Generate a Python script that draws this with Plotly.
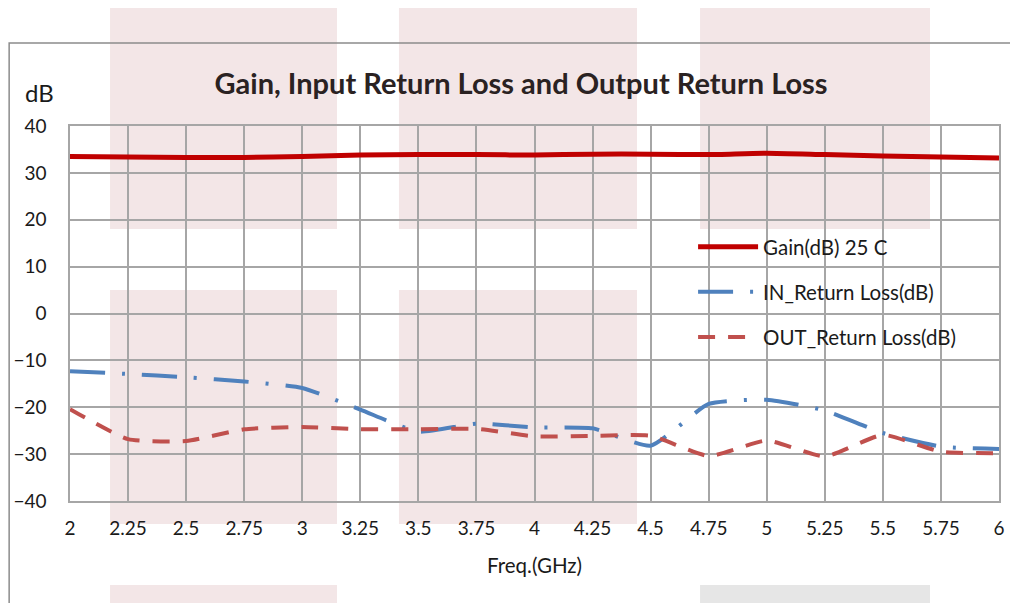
import plotly.graph_objects as go

# ---- data ----
freq_ghz = [2.0, 2.25, 2.5, 2.75, 3.0, 3.25, 3.5, 3.75, 4.0, 4.25, 4.5, 4.75, 5.0, 5.25, 5.5, 5.75, 6.0]
gain_db = [33.5, 33.4, 33.3, 33.3, 33.5, 33.8, 33.9, 33.9, 33.8, 34.0, 34.0, 33.9, 34.2, 33.9, 33.6, 33.4, 33.2]
in_return_loss = [-12.3, -12.9, -13.6, -14.5, -15.9, -20.5, -25.2, -23.5, -24.3, -24.5, -28.2, -19.3, -18.4, -20.7, -25.5, -28.4, -28.9]
out_return_loss = [-20.4, -26.8, -27.2, -24.7, -24.2, -24.7, -24.7, -24.6, -26.2, -26.1, -26.1, -30.4, -27.1, -30.5, -25.9, -29.5, -29.8]

x_tick_vals = [2, 2.25, 2.5, 2.75, 3, 3.25, 3.5, 3.75, 4, 4.25, 4.5, 4.75, 5, 5.25, 5.5, 5.75, 6]
x_tick_text = ["2", "2.25", "2.5", "2.75", "3", "3.25", "3.5", "3.75", "4", "4.25", "4.5", "4.75", "5", "5.25", "5.5", "5.75", "6"]
y_tick_vals = [40, 30, 20, 10, 0, -10, -20, -30, -40]

series_names = ["Gain(dB) 25 C", "IN_Return Loss(dB)", "OUT_Return Loss(dB)"]
title_text = "Gain, Input Return Loss and Output Return Loss"
y_unit_text = "dB"
x_title_text = "Freq.(GHz)"

FONT = "Lato"
GRID = "#A6A6A6"

fig = go.Figure()
fig.add_trace(go.Scatter(
    x=freq_ghz, y=gain_db, mode="lines", name=series_names[0], legendgroup="g1",
    line=dict(color="#C00000", width=5, shape="spline", smoothing=0.6)))
fig.add_trace(go.Scatter(
    x=freq_ghz, y=in_return_loss, mode="lines", name=series_names[1], legendgroup="g2",
    line=dict(color="#4F81BD", width=4, dash="35px,17px,3px,17px", shape="spline", smoothing=0.5)))
fig.add_trace(go.Scatter(
    x=freq_ghz, y=out_return_loss, mode="lines", name=series_names[2], legendgroup="g3",
    line=dict(color="#C0504D", width=4, dash="17px,13px", shape="spline", smoothing=0.5)))

# decorative background blocks (paper coordinates)
PINK = "#F3E6E7"
GREY = "#E6E6E6"
cols = [(0.0431, 0.2874), (0.3541, 0.6103), (0.6782, 0.9257)]
rows = [(0.7253, 1.3147), (-0.0613, 0.5627), (-0.40, -0.224)]
blocks = [(0, 0, PINK), (1, 0, PINK), (2, 0, PINK),
          (0, 1, PINK), (1, 1, PINK),
          (0, 2, PINK), (2, 2, GREY)]
shapes = []
for ci, ri, colr in blocks:
    shapes.append(dict(type="rect", xref="paper", yref="paper",
                       x0=cols[ci][0], x1=cols[ci][1], y0=rows[ri][0], y1=rows[ri][1],
                       fillcolor=colr, line=dict(width=0), layer="below"))
# outer chart frame
shapes.append(dict(type="rect", xref="paper", yref="paper",
                   x0=-0.0655, x1=1.05, y0=-0.40, y1=1.2213,
                   fillcolor="rgba(0,0,0,0)", line=dict(color="#8C8C8C", width=1.5), layer="below"))

fig.update_layout(
    width=1010, height=595,
    margin=dict(l=62, r=19, t=118, b=102, autoexpand=False),
    paper_bgcolor="white", plot_bgcolor="rgba(0,0,0,0)",
    font=dict(family=FONT, color="#1A1A1A", size=19),
    title=dict(text="<b>" + title_text + "</b>", x=0.508, xref="container", xanchor="center",
               y=0.8723, yref="container", yanchor="middle",
               font=dict(family=FONT, size=29, color="#2A2222")),
    showlegend=True,
    legend=dict(x=0.6707, y=0.731, xanchor="left", yanchor="top",
                bgcolor="rgba(0,0,0,0)", itemwidth=60, tracegroupgap=15.5,
                traceorder="grouped", font=dict(size=20.5, color="#1A1A1A")),
    shapes=shapes,
    annotations=[
        dict(text=y_unit_text, xref="paper", yref="paper", x=-0.0323, y=1.088,
             xanchor="center", yanchor="middle", showarrow=False, font=dict(size=24)),
        dict(text=x_title_text, xref="paper", yref="paper", x=0.5005, y=-0.171,
             xanchor="center", yanchor="middle", showarrow=False, font=dict(size=20.5)),
    ],
)
fig.update_xaxes(range=[2, 6], tickvals=x_tick_vals, ticktext=x_tick_text,
                 showgrid=True, gridcolor=GRID, gridwidth=1.5,
                 showline=True, linecolor=GRID, linewidth=1.5, mirror=True,
                 zeroline=False, ticks="", ticklabelstandoff=9, automargin=False,
                 tickfont=dict(size=19))
fig.update_yaxes(range=[-40, 40], tickvals=y_tick_vals,
                 showgrid=True, gridcolor=GRID, gridwidth=1.5,
                 showline=True, linecolor=GRID, linewidth=1.5, mirror=True,
                 zeroline=False, ticks="", ticklabelstandoff=18, automargin=False,
                 tickfont=dict(size=19))

fig.write_html("out.html")
